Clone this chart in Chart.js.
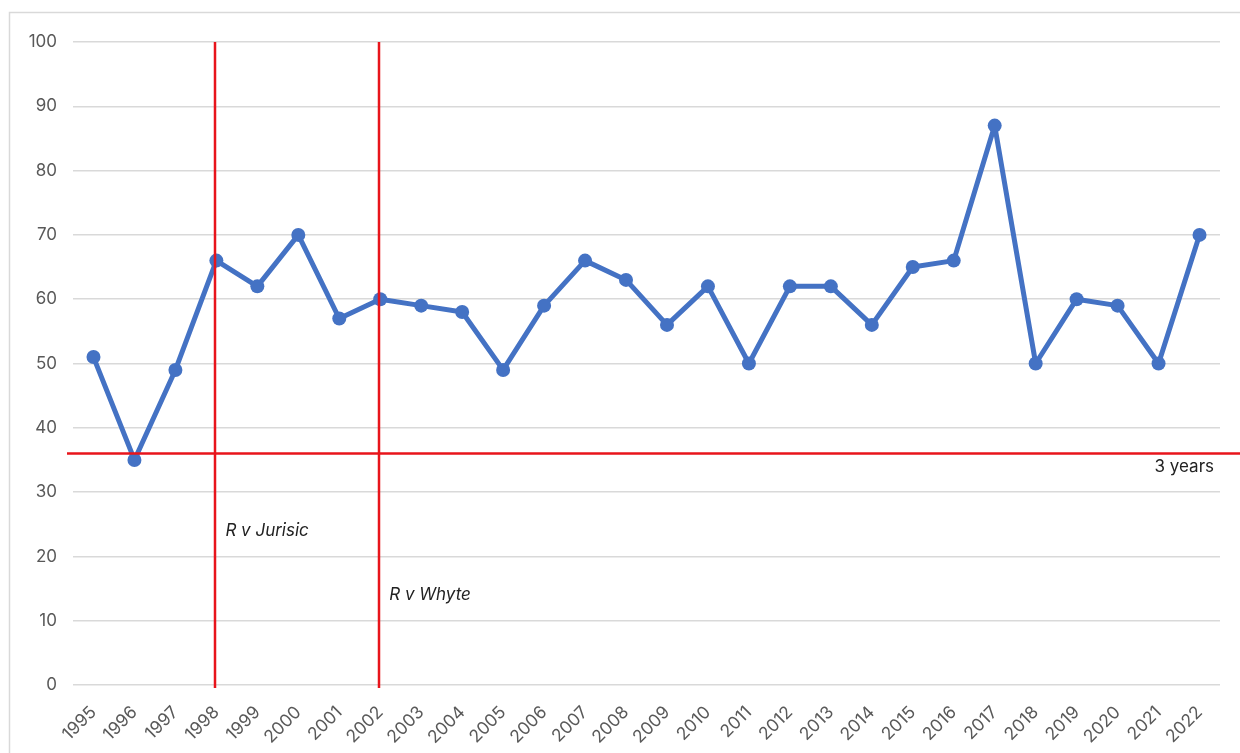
<!DOCTYPE html>
<html>
<head>
<meta charset="utf-8">
<script src="https://cdn.jsdelivr.net/npm/chart.js@4"></script>
<style>
  html, body { margin: 0; padding: 0; background: #fff; }
  #wrap { width: 1240px; height: 753px; position: relative; }
</style>
</head>
<body>
<div id="wrap"><canvas id="c" width="1240" height="753"></canvas></div>
<script>
const years = ['1995','1996','1997','1998','1999','2000','2001','2002','2003','2004','2005','2006','2007','2008','2009','2010','2011','2012','2013','2014','2015','2016','2017','2018','2019','2020','2021','2022'];
const values = [51,35,49,66,62,70,57,60,59,58,49,59,66,63,56,62,50,62,62,56,65,66,87,50,60,59,50,70];
const yTicks = [0,10,20,30,40,50,60,70,80,90,100];
const markerYears = ['1998','2002'];
const markerLabels = ['R v Jurisic','R v Whyte'];
const markerLabelValues = [24, 14];
const thresholdValue = 36;
const thresholdLabel = '3 years';
const thresholdLabelValue = 34;

const overlay = {
  id: 'overlay',
  beforeDraw(chart) {
    const ctx = chart.ctx;
    ctx.save();
    ctx.strokeStyle = '#d9d9d9';
    ctx.lineWidth = 1.5;
    ctx.strokeRect(9.5, 12.5, 1260, 800);
    ctx.restore();
  },
  afterDatasetsDraw(chart) {
    const ctx = chart.ctx;
    const xs = chart.scales.x, ys = chart.scales.y;
    const ca = chart.chartArea;
    ctx.save();
    ctx.strokeStyle = '#e8141b';
    ctx.lineWidth = 2.5;
    markerYears.forEach(function (yr) {
      const px = Math.round(xs.getPixelForValue(yr)) - 1;
      ctx.beginPath();
      ctx.moveTo(px, ys.getPixelForValue(100));
      ctx.lineTo(px, ys.getPixelForValue(0) + 3);
      ctx.stroke();
    });
    const py = ys.getPixelForValue(thresholdValue);
    ctx.beginPath();
    ctx.moveTo(ca.left - 6, py);
    ctx.lineTo(1240, py);
    ctx.stroke();

    ctx.fillStyle = '#222';
    ctx.font = 'italic 17px Inter, "Noto Sans", sans-serif';
    ctx.textBaseline = 'middle';
    ctx.textAlign = 'left';
    markerYears.forEach(function (yr, i) {
      const px = xs.getPixelForValue(yr);
      ctx.fillText(markerLabels[i], px + 9, ys.getPixelForValue(markerLabelValues[i]));
    });
    ctx.font = '17px Inter, "Noto Sans", sans-serif';
    ctx.textAlign = 'right';
    ctx.fillText(thresholdLabel, ca.right - 6, ys.getPixelForValue(thresholdLabelValue) + 1);
    ctx.restore();
  }
};

new Chart(document.getElementById('c'), {
  type: 'line',
  data: {
    labels: years,
    datasets: [{
      data: values,
      borderColor: '#4472c4',
      backgroundColor: '#4472c4',
      borderWidth: 5,
      borderJoinStyle: 'round',
      borderCapStyle: 'round',
      pointRadius: 7,
      pointBackgroundColor: '#4472c4',
      pointBorderWidth: 0,
      tension: 0
    }]
  },
  options: {
    responsive: false,
    animation: false,
    devicePixelRatio: 1,
    layout: { padding: { left: 9, top: 42, right: 20, bottom: 0 } },
    plugins: { legend: { display: false }, tooltip: { enabled: false } },
    scales: {
      x: {
        offset: true,
        grid: { display: false, drawTicks: false },
        border: { display: false },
        ticks: {
          color: '#595959',
          font: { family: 'Inter, "Noto Sans", sans-serif', size: 17.5 },
          minRotation: 45, maxRotation: 45, autoSkip: false, padding: 17
        },
        afterFit(s) { s.height = 68; }
      },
      y: {
        min: 0, max: 100,
        afterBuildTicks(s) { s.ticks = yTicks.map(v => ({ value: v })); },
        grid: { color: '#d9d9d9', lineWidth: 1.5, drawTicks: false },
        border: { display: false },
        ticks: {
          color: '#595959',
          font: { family: 'Inter, "Noto Sans", sans-serif', size: 17 },
          padding: 16
        },
        afterFit(s) { s.width = 64; }
      }
    }
  },
  plugins: [overlay]
});
</script>
</body>
</html>
